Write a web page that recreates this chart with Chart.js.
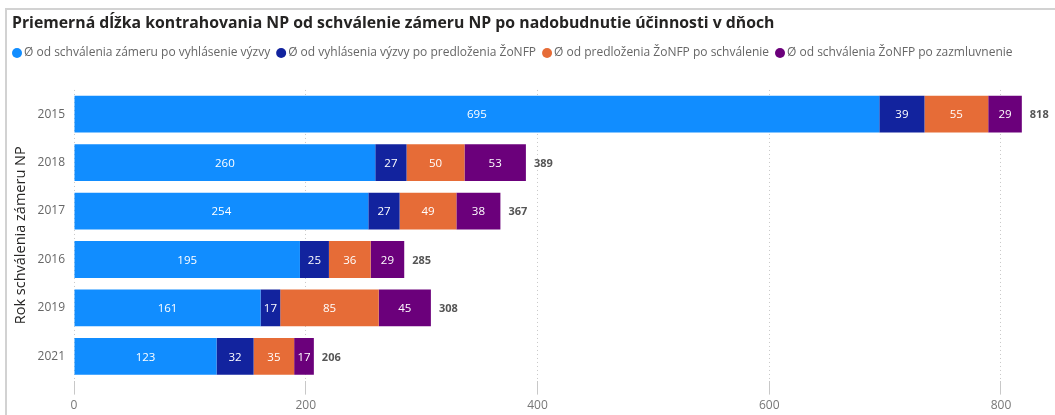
<!DOCTYPE html>
<html>
<head>
<meta charset="utf-8">
<script src="https://cdn.jsdelivr.net/npm/chart.js@4/dist/chart.umd.min.js"></script>
<style>
  html, body { margin: 0; padding: 0; background: #fff; overflow: hidden; }
  #wrap { position: absolute; left: 0; top: 0; width: 1055px; height: 415px; }
  #frame { position: absolute; left: 5px; top: 8px; width: 1060px; height: 420px; border-left: 2px solid #d2d2d2; border-top: 2px solid #d2d2d2; pointer-events: none; }
</style>
</head>
<body>
<div id="wrap"><canvas id="c" width="1055" height="415"></canvas></div>
<div id="frame"></div>
<script>
const categories = ['2015', '2018', '2017', '2016', '2019', '2021'];
const seriesNames = [
  'Ø od schválenia zámeru po vyhlásenie výzvy',
  'Ø od vyhlásenia výzvy po predloženia ŽoNFP',
  'Ø od predloženia ŽoNFP po schválenie',
  'Ø od schválenia ŽoNFP po zazmluvnenie'
];
const s1 = [695, 260, 254, 195, 161, 123];
const s2 = [39, 27, 27, 25, 17, 32];
const s3 = [55, 50, 49, 36, 85, 35];
const s4 = [29, 53, 38, 29, 45, 17];
const totals = [818, 389, 367, 285, 308, 206];
const xTicks = [0, 200, 400, 600, 800];
const colors = ['#118DFF', '#12239E', '#E66C37', '#6B007B'];

const FONT = "'Segoe UI', 'Open Sans', sans-serif";

const labelsPlugin = {
  id: 'barLabels',
  afterDatasetsDraw(chart) {
    const ctx = chart.ctx;
    ctx.save();
    ctx.textBaseline = 'middle';
    chart.data.datasets.forEach((ds, di) => {
      const meta = chart.getDatasetMeta(di);
      meta.data.forEach((el, i) => {
        const v = ds.data[i];
        const left = Math.min(el.x, el.base), right = Math.max(el.x, el.base);
        ctx.fillStyle = '#ffffff';
        ctx.font = "11.5px " + FONT;
        ctx.textAlign = 'center';
        ctx.fillText(String(v), (left + right) / 2, el.y + 1);
      });
    });
    const last = chart.getDatasetMeta(chart.data.datasets.length - 1);
    last.data.forEach((el, i) => {
      ctx.fillStyle = '#555555';
      ctx.font = "bold 11px " + FONT;
      ctx.textAlign = 'left';
      ctx.fillText(String(totals[i]), el.x + 8, el.y + 1);
    });
    ctx.restore();
  }
};

// compact legend drawn under the title (Power BI style)
const compactLegend = {
  id: 'compactLegend',
  afterDraw(chart) {
    const ctx = chart.ctx;
    ctx.save();
    ctx.font = "12px " + FONT;
    ctx.textBaseline = 'middle';
    ctx.textAlign = 'left';
    let x = 12;
    const y = 53;
    chart.data.datasets.forEach(ds => {
      ctx.fillStyle = ds.backgroundColor;
      ctx.beginPath();
      ctx.arc(x + 5, y, 5, 0, Math.PI * 2);
      ctx.fill();
      ctx.fillStyle = '#666666';
      const tx = x + 12;
      ctx.fillText(ds.label, tx, y);
      x = tx + ctx.measureText(ds.label).width + 6;
    });
    ctx.restore();
  }
};

new Chart(document.getElementById('c'), {
  type: 'bar',
  data: {
    labels: categories,
    datasets: [s1, s2, s3, s4].map((d, k) => ({
      label: seriesNames[k],
      data: d,
      backgroundColor: colors[k],
      borderWidth: 0,
      categoryPercentage: 1,
      barPercentage: 0.76
    }))
  },
  options: {
    indexAxis: 'y',
    responsive: false,
    animation: false,
    layout: { padding: { left: 12, right: 10, top: 4, bottom: -2 } },
    plugins: {
      title: {
        display: true,
        text: 'Priemerná dĺžka kontrahovania NP od schválenie zámeru NP po nadobudnutie účinnosti v dňoch',
        align: 'start',
        color: '#252423',
        font: { family: FONT, size: 15.8, weight: 'bold' },
        padding: { top: 10, bottom: 57 }
      },
      legend: { display: false },
      tooltip: { enabled: false }
    },
    scales: {
      x: {
        stacked: true,
        min: 0,
        max: 838,
        afterBuildTicks(scale) {
          scale.ticks = xTicks.map(v => ({ value: v }));
        },
        grid: {
          display: true,
          color: '#c8c8c8',
          lineWidth: 1,
          drawTicks: true,
          tickLength: 14,
          tickColor: '#c8c8c8'
        },
        border: { display: false, dash: [1, 3] },
        ticks: { color: '#777777', font: { family: FONT, size: 12 }, padding: 4 }
      },
      y: {
        stacked: true,
        afterFit(scale) { scale.width = 62; },
        grid: { display: false, drawTicks: false, tickLength: 0 },
        border: { display: false },
        ticks: { color: '#666666', font: { family: FONT, size: 12 }, padding: 9 },
        title: {
          display: true,
          text: 'Rok schválenia zámeru NP',
          color: '#252423',
          font: { family: FONT, size: 14.5 },
          padding: { top: 0, bottom: 0 }
        }
      }
    }
  },
  plugins: [labelsPlugin, compactLegend]
});
</script>
</body>
</html>
